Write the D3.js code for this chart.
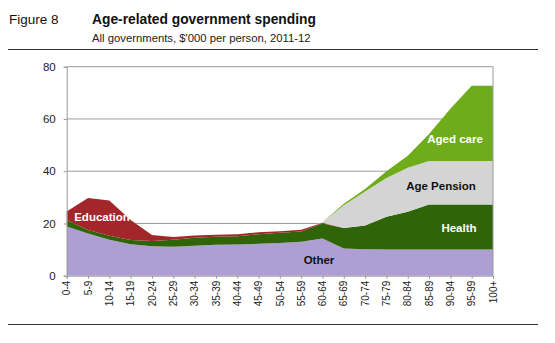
<!DOCTYPE html>
<html>
<head>
<meta charset="utf-8">
<script src="https://cdn.jsdelivr.net/npm/d3@7"></script>
<style>
  html, body { margin: 0; padding: 0; background: #fff; }
  svg { display: block; font-family: "Liberation Sans", Arial, sans-serif; }
</style>
</head>
<body>
<svg id="chart" width="555" height="343"></svg>
<script>
// Age groups along the x axis
const ageGroups = ["0-4","5-9","10-14","15-19","20-24","25-29","30-34","35-39","40-44","45-49",
  "50-54","55-59","60-64","65-69","70-74","75-79","80-84","85-89","90-94","95-99","100+"];

// Spending per person by category, $'000 (stacked bottom to top)
const other      = [18.8,16.2,13.8,12.0,11.3,11.1,11.5,11.8,11.9,12.2,12.5,13.0,14.2,10.4,10.1,10.0,10.0,10.0,10.0,10.0,10.0];
const health     = [2.5,1.3,1.5,1.7,2.0,2.7,3.0,3.1,3.2,3.7,3.9,3.9,5.8,7.9,9.1,12.6,14.5,17.3,17.3,17.3,17.3];
const education  = [3.3,12.2,13.5,7.6,2.3,1.0,0.9,0.8,0.8,0.7,0.6,0.7,0.3,0,0,0,0,0,0,0,0];
const agePension = [0,0,0,0,0,0,0,0,0,0,0,0,0.2,8.7,13.0,14.8,16.8,16.6,16.6,16.6,16.6];
const agedCare   = [0,0,0,0,0,0,0,0,0,0,0,0,0,0.5,1.0,2.6,4.6,10.3,20.0,28.8,28.8];

const yTicks = [0, 20, 40, 60, 80];

const seriesKeys = ["Other","Health","Education","Age Pension","Aged care"];
const seriesData = { "Other": other, "Health": health, "Education": education,
                     "Age Pension": agePension, "Aged care": agedCare };
const colors = { "Other": "#ad9fd4", "Health": "#2f6508", "Education": "#a3262b",
                 "Age Pension": "#d4d4d4", "Aged care": "#6fac1c" };

const rows = ageGroups.map((g, i) => {
  const r = { age: g };
  seriesKeys.forEach(k => r[k] = seriesData[k][i]);
  return r;
});

const svg = d3.select("#chart");
const margin = { left: 66.7, right: 555 - 493, top: 66.7, bottom: 343 - 275.7 };
const W = 555, H = 343;

const x = d3.scalePoint().domain(ageGroups).range([margin.left, W - margin.right]);
const y = d3.scaleLinear().domain([0, 80]).range([H - margin.bottom, margin.top]);

// Header
svg.append("text").attr("x", 9).attr("y", 24).attr("font-size", 13.5).attr("fill", "#111").text("Figure 8");
svg.append("text").attr("x", 92).attr("y", 24).attr("font-size", 13.8).attr("font-weight", "bold").attr("fill", "#111")
  .text("Age-related government spending");
svg.append("text").attr("x", 92).attr("y", 41.5).attr("font-size", 11.3).attr("fill", "#222")
  .text("All governments, $'000 per person, 2011-12");
svg.append("line").attr("x1", 8).attr("x2", 538).attr("y1", 49.5).attr("y2", 49.5)
  .attr("stroke", "#333").attr("stroke-width", 1);
svg.append("line").attr("x1", 8).attr("x2", 538).attr("y1", 324.5).attr("y2", 324.5)
  .attr("stroke", "#333").attr("stroke-width", 1);

// Gridlines
svg.append("g").selectAll("line").data(yTicks.filter(d => d > 0)).join("line")
  .attr("x1", x.range()[0]).attr("x2", x.range()[1])
  .attr("y1", d => y(d)).attr("y2", d => y(d))
  .attr("stroke", "#9a9a9a").attr("stroke-width", 1);

// Stacked areas
const stack = d3.stack().keys(seriesKeys);
const layers = stack(rows);
const area = d3.area()
  .x(d => x(d.data.age))
  .y0(d => y(d[0]))
  .y1(d => y(d[1]));

svg.append("g").selectAll("path").data(layers).join("path")
  .attr("d", area)
  .attr("fill", d => colors[d.key]);

// Plot frame (right edge)
svg.append("line").attr("x1", x.range()[1]).attr("x2", x.range()[1])
  .attr("y1", y(80)).attr("y2", y(0)).attr("stroke", "#9a9a9a");

// Y axis
const yAxis = d3.axisLeft(y).tickValues(yTicks).tickSize(3).tickPadding(8);
const gy = svg.append("g").attr("transform", `translate(${x.range()[0]},0)`).call(yAxis);
gy.select(".domain").attr("stroke", "#9a9a9a");
gy.selectAll(".tick line").attr("stroke", "#9a9a9a");
gy.selectAll("text").attr("font-size", 11.5).attr("fill", "#222")
  .attr("font-family", "Liberation Sans, Arial, sans-serif");

// X axis
const xAxis = d3.axisBottom(x).tickSize(3).tickPadding(4);
const gx = svg.append("g").attr("transform", `translate(0,${y(0)})`).call(xAxis);
gx.select(".domain").attr("stroke", "#9a9a9a");
gx.selectAll(".tick line").attr("stroke", "#9a9a9a");
gx.selectAll("text")
  .attr("font-size", 10).attr("fill", "#222")
  .attr("font-family", "Liberation Sans, Arial, sans-serif")
  .attr("transform", "rotate(-90)")
  .attr("text-anchor", "end")
  .attr("dx", "-5").attr("dy", "0.32em")
  .attr("x", 0).attr("y", 0);

// Series labels
const labels = [
  { text: "Education",   x: 102, y: 221, fill: "#fff" },
  { text: "Other",       x: 319, y: 264, fill: "#111" },
  { text: "Age Pension", x: 441, y: 190, fill: "#111" },
  { text: "Aged care",   x: 455, y: 143, fill: "#fff" },
  { text: "Health",      x: 459, y: 232, fill: "#fff" }
];
svg.append("g").selectAll("text").data(labels).join("text")
  .attr("x", d => d.x).attr("y", d => d.y)
  .attr("text-anchor", "middle")
  .attr("font-size", 11.5).attr("font-weight", "bold")
  .attr("fill", d => d.fill)
  .text(d => d.text);
</script>
</body>
</html>
